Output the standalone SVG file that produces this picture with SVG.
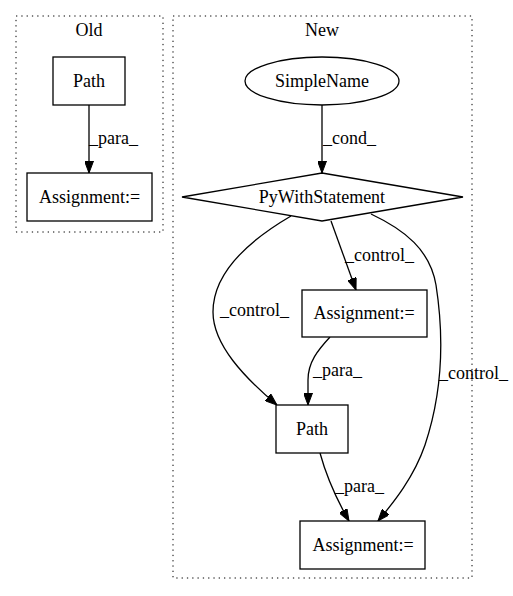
<svg xmlns="http://www.w3.org/2000/svg" width="513" height="596" viewBox="0 0 513 596">
<defs>
<style>
text{font-family:"Liberation Serif","Times New Roman",serif;font-size:18px;fill:#000}
.c{text-anchor:middle}
.cl{fill:none;stroke:#000;stroke-width:1;stroke-dasharray:1.3,4}
.n{fill:#fff;stroke:#000;stroke-width:1.3}
.e{fill:none;stroke:#000;stroke-width:1.3;marker-end:url(#ah)}
</style>
<marker id="ah" viewBox="0 0 12 9" refX="12" refY="4.5" markerWidth="12" markerHeight="9" markerUnits="userSpaceOnUse" orient="auto">
<path d="M0,0 L12,4.5 L0,9 z" fill="#000" stroke="#000"/>
</marker>
</defs>
<rect width="513" height="596" fill="#fff"/>
<g id="cluster_old">
<rect class="cl" x="16" y="16" width="147" height="216"/>
<text class="c" x="89" y="36">Old</text>
</g>
<g id="cluster_new">
<rect class="cl" x="173" y="16" width="299" height="562"/>
<text class="c" x="322" y="36">New</text>
</g>
<g id="edges">
<path class="e" d="M89,105 L89,173"/>
<text x="89" y="144">_para_</text>
<path class="e" d="M322,105 L322,173"/>
<text x="323" y="144">_cond_</text>
<path class="e" d="M331,221 L356,290"/>
<text x="345" y="261">_control_</text>
<path class="e" d="M291,216 C250,240 213,272 213,312 C213,345 245,378 277,405"/>
<text x="220" y="316">_control_</text>
<path class="e" d="M330,337 C318,350 308,362 308,380 L308,405"/>
<text x="313" y="376">_para_</text>
<path class="e" d="M371,214 C405,230 430,250 436,285 C443,330 445,385 425,445 C414,477 394,502 378,521"/>
<text x="439" y="379">_control_</text>
<path class="e" d="M320,453 C326,475 337,500 349,521"/>
<text x="335" y="492">_para_</text>
</g>
<g id="old_path">
<rect class="n" x="53" y="57" width="72" height="48"/>
<text class="c" x="89" y="87">Path</text>
</g>
<g id="old_assign">
<rect class="n" x="27" y="173" width="125" height="48"/>
<text class="c" x="89.5" y="203">Assignment:=</text>
</g>
<g id="simplename">
<ellipse class="n" cx="322" cy="81" rx="77" ry="24"/>
<text class="c" x="322" y="87">SimpleName</text>
</g>
<g id="pywith">
<polygon class="n" points="322,173 463,197 322,221 182,197"/>
<text class="c" x="322" y="203">PyWithStatement</text>
</g>
<g id="new_assign1">
<rect class="n" x="302" y="290" width="125" height="47"/>
<text class="c" x="364" y="319">Assignment:=</text>
</g>
<g id="new_path">
<rect class="n" x="276" y="405" width="72" height="48"/>
<text class="c" x="312" y="435">Path</text>
</g>
<g id="new_assign2">
<rect class="n" x="300" y="521" width="125" height="48"/>
<text class="c" x="363" y="551">Assignment:=</text>
</g>
</svg>
